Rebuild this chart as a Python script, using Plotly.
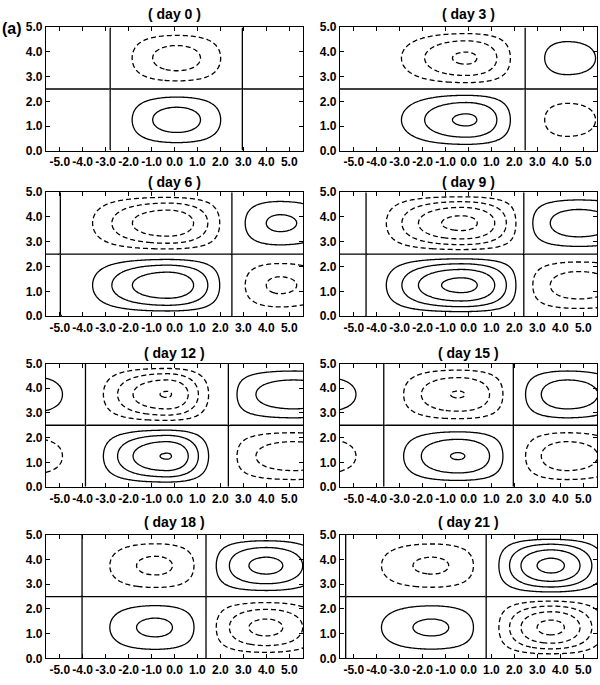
import numpy as np
import plotly.graph_objects as go

# ---------------- data ----------------
panel_titles = ["( day 0 )", "( day 3 )", "( day 6 )", "( day 9 )",
                "( day 12 )", "( day 15 )", "( day 18 )", "( day 21 )"]

# zero crossings of the zonal structure (includes crossings outside the frame)
node_x = [
    [-8.5, -2.8, 2.95, 8.5],
    [-7.5, 2.47, 6.8],
    [-9.0, -4.98, 2.51, 7.5],
    [-9.0, -4.46, 2.41, 8.0],
    [-8.5, -3.89, 2.38, 8.5],
    [-8.5, -3.70, 1.95, 7.5],
    [-8.5, -4.03, 1.37, 7.5],
    [-8.0, -5.37, 0.75, 7.0],
]
# position of the extreme of each lobe
peak_x = [
    [-6.0, 0.1, 6.0],
    [-0.1, 4.3],
    [-7.0, -0.3, 4.6],
    [-7.0, -0.3, 4.8],
    [-6.2, -0.32, 5.2],
    [-6.5, -0.45, 4.3],
    [-6.5, -0.83, 4.0],
    [-6.5, -1.6, 3.6],
]
# lobe amplitude in contour-interval units (sign of the lower half)
peak_amp = [
    [-0.5, 2.5, -0.5],
    [3.15, -1.5],
    [-0.5, 3.8, -2.2],
    [-0.5, 4.3, -2.6],
    [-1.6, 4.05, -2.7],
    [-1.6, 3.05, -2.7],
    [-0.5, 2.25, -3.3],
    [-0.5, 2.2, -4.3],
]
# flank sharpness of each lobe (west / east)
shape_west = [
    [1, 1.3, 1], [6.0, 1.0], [1, 1.7, 0.9], [1, 1.3, 0.7],
    [1, 1.3, 0.6], [1, 1.25, 0.95], [1, 1.4, 0.9], [1, 1.6, 1.25],
]
shape_east = [
    [1, 1.3, 1], [1.2, 1.2], [1, 1.1, 1.2], [1, 0.9, 1.0],
    [1, 2.0, 1.0], [1, 0.9, 1.3], [1, 0.8, 1.8], [1, 0.75, 2.0],
]

x_ticks = [-5, -4, -3, -2, -1, 0, 1, 2, 3, 4, 5]
x_tick_labels = ["-5.0", "-4.0", "-3.0", "-2.0", "-1.0", "0.0",
                 "1.0", "2.0", "3.0", "4.0", "5.0"]
y_ticks = [0, 1, 2, 3, 4, 5]
y_tick_labels = ["0.0", "1.0", "2.0", "3.0", "4.0", "5.0"]

# ---------------- field construction ----------------
xs = np.linspace(-5.6, 5.6, 180)
ys = np.linspace(0.005, 4.995, 80)


def zonal(x, nodes, peaks, amps, qw, qe):
    f = np.zeros_like(x)
    for i in range(len(peaks)):
        a, b, p = nodes[i], nodes[i + 1], peaks[i]
        m = (x >= a) & (x <= p)
        t = (x[m] - a) / (p - a)
        f[m] = amps[i] * np.sin(np.pi / 2 * t) ** qw[i]
        m = (x > p) & (x <= b)
        t = (b - x[m]) / (b - p)
        f[m] = amps[i] * np.sin(np.pi / 2 * t) ** qe[i]
    return f


merid = np.sin(2 * np.pi * ys / 5.0)

W, H = 600, 685
col_px = [(46, 303), (340, 597)]
row_px = [(20.7, 146.7), (189, 315.7), (364, 490), (538.7, 665)]
title_py = [7.5, 179, 353, 526]

fig = go.Figure()
layout = dict(width=W, height=H, margin=dict(l=0, r=0, t=0, b=0),
              paper_bgcolor="white", plot_bgcolor="white", showlegend=False)
annotations = []
tfont = dict(family="Liberation Sans, Arial, sans-serif", size=12,
             color="black", weight="bold")

for k in range(8):
    r, c = k // 2, k % 2
    n = k + 1
    xa = "x" if n == 1 else f"x{n}"
    ya = "y" if n == 1 else f"y{n}"
    f = zonal(xs, node_x[k], peak_x[k], peak_amp[k], shape_west[k], shape_east[k])
    z = np.round(merid[:, None] * f[None, :], 4)
    common = dict(x=xs, y=ys, z=z, xaxis=xa, yaxis=ya, showscale=False,
                  hoverinfo="skip", autocontour=False)
    fig.add_trace(go.Contour(
        **common,
        contours=dict(start=0, end=8, size=1, coloring="none", showlabels=False),
        line=dict(color="black", width=1.3, smoothing=0.8)))
    fig.add_trace(go.Contour(
        **common,
        contours=dict(start=-8, end=-1, size=1, coloring="none", showlabels=False),
        line=dict(color="black", width=1.3, dash="5px,3px", smoothing=0.8)))

    x0, x1 = col_px[c]
    y0, y1 = row_px[r]
    axis_common = dict(showline=True, linecolor="black", linewidth=1.4,
                       mirror="ticks", ticks="inside", ticklen=4, tickwidth=1.2,
                       tickcolor="black", showgrid=False, zeroline=False,
                       tickfont=tfont, tickangle=0)
    layout["xaxis" if n == 1 else f"xaxis{n}"] = dict(
        domain=[x0 / W, x1 / W], anchor=ya, range=[-5.6, 5.6],
        tickvals=x_ticks, ticktext=x_tick_labels, **axis_common)
    layout["yaxis" if n == 1 else f"yaxis{n}"] = dict(
        domain=[1 - y1 / H, 1 - y0 / H], anchor=xa, range=[0, 5],
        tickvals=y_ticks, ticktext=y_tick_labels, **axis_common)
    annotations.append(dict(
        text=panel_titles[k], xref="paper", yref="paper",
        x=(x0 + x1) / 2 / W, y=1 - title_py[r] / H,
        xanchor="center", yanchor="middle", showarrow=False,
        font=dict(family="Liberation Sans, Arial, sans-serif", size=14,
                  color="black", weight="bold")))

annotations.append(dict(
    text="(a)", xref="paper", yref="paper", x=0.0, y=1 - 22 / H,
    xanchor="left", yanchor="middle", showarrow=False,
    font=dict(family="Liberation Sans, Arial, sans-serif", size=16,
              color="black", weight="bold")))
layout["annotations"] = annotations
fig.update_layout(**layout)
fig.write_html(
    "out.html",
    config={"displayModeBar": False},
    post_script="document.body.style.margin='0';document.body.style.padding='0';"
                "document.body.style.overflow='hidden';")
